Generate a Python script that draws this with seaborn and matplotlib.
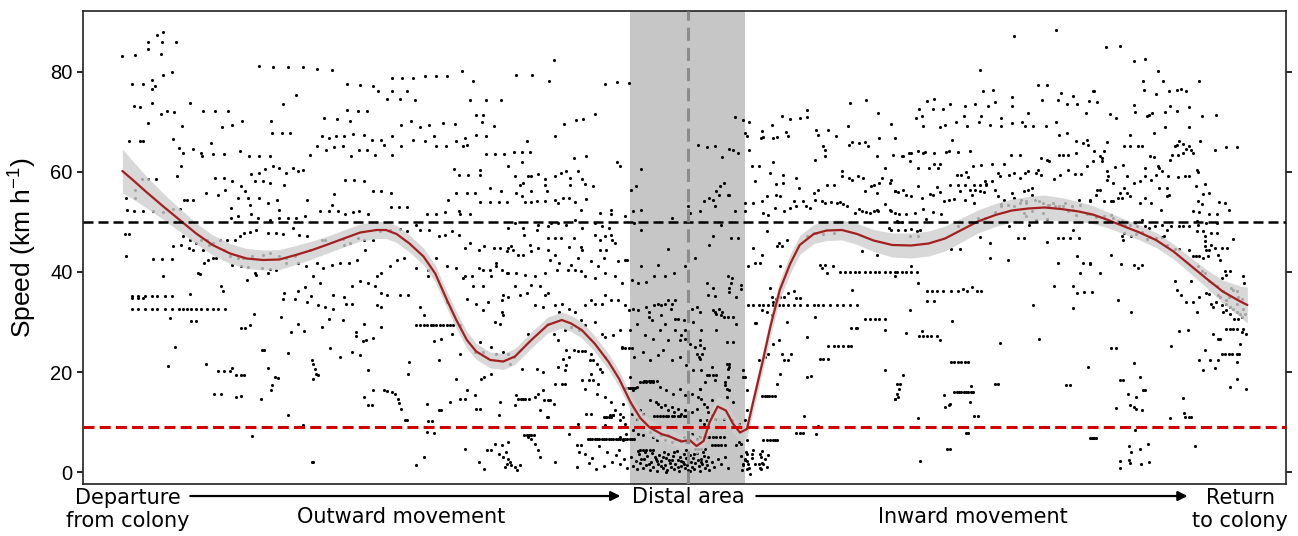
import matplotlib
matplotlib.use("Agg")
import matplotlib.pyplot as plt
import seaborn as sns
import pandas as pd

# Data: x = relative position along the trip (0-100), y = speed (km/h)
# Points, grouped by stretch of the trip
pts_departure = [
    (0.8, 83.2), (1.9, 83.4), (3.0, 85.9), (3.0, 84.5), (3.8, 87.4), (4.3, 87.9), (4.2, 85.9), (5.4, 85.9), (4.1, 83.5),
    (1.6, 77.6), (2.6, 77.6), (3.3, 78.3), (3.3, 76.6), (3.6, 77.1), (4.3, 79.3), (5.0, 79.9),
    (1.8, 73.2), (2.3, 73.0), (3.3, 73.7), (4.1, 71.6), (4.6, 72.1), (5.2, 71.9), (3.0, 69.7), (5.9, 69.1), (6.6, 73.7),
    (1.4, 66.2), (2.3, 66.2), (2.6, 66.2), (5.1, 66.6), (5.6, 64.7), (6.0, 63.7), (6.8, 64.5), (5.8, 61.1), (5.5, 59.1),
    (2.5, 58.5), (3.0, 58.5), (3.7, 58.5), (1.9, 56.4), (1.9, 54.7), (1.1, 54.7), (1.2, 52.4),
    (1.8, 52.1), (2.6, 52.1), (3.4, 52.1), (4.3, 51.9), (5.1, 52.5), (5.7, 52.5), (6.1, 54.3), (6.3, 54.3), (6.8, 54.3),
    (1.0, 47.6), (1.4, 47.6), (1.1, 43.1), (3.4, 42.5), (4.2, 42.5), (5.0, 42.5), (4.3, 39.1),
    (1.6, 35.3), (2.1, 35.3), (2.7, 35.3), (3.3, 35.3), (3.8, 35.3), (4.4, 35.3), (5.0, 35.3), (1.6, 34.9), (2.1, 34.9), (2.6, 34.9),
    (1.6, 32.6), (2.1, 32.6), (2.7, 32.6), (3.3, 32.6), (3.8, 32.6), (4.4, 32.6), (5.0, 32.6), (5.6, 32.6), (6.0, 32.6),
    (6.3, 32.6), (6.7, 32.6), (7.1, 32.6), (7.5, 32.6), (8.0, 32.6), (8.5, 32.6), (9.0, 32.6), (9.6, 32.6),
    (6.6, 35.5), (6.7, 30.2), (7.1, 30.2), (4.9, 30.9), (5.3, 25.1), (4.7, 21.3), (7.9, 21.6),
    (9.0, 20.2), (9.5, 20.2), (10.0, 20.2), (10.2, 20.9), (10.5, 19.4), (10.9, 19.4), (11.2, 19.4),
    (8.6, 15.7), (9.2, 15.7), (10.5, 15.1), (10.9, 15.2), (12.6, 14.6), (13.5, 16.4), (13.6, 17.4), (13.8, 19.1), (14.1, 18.9),
    (12.7, 24.4), (12.9, 24.4), (13.2, 20.9), (14.9, 23.9), (14.9, 11.5), (11.9, 7.2), (16.2, 9.4), (17.0, 2.1),
    (10.9, 28.9), (11.3, 28.9), (11.7, 29.5), (12.0, 31.6), (14.3, 31.1), (15.2, 28.1), (15.8, 29.6), (16.3, 28.3),
    (14.6, 35.7), (14.5, 34.7), (15.5, 34.7), (15.8, 36.1), (16.4, 36.9), (16.6, 34.1), (16.9, 35.3),
    (11.4, 38.4), (12.2, 39.4), (13.2, 39.7), (9.2, 37.1), (9.4, 36.1), (7.3, 39.7), (7.4, 39.6),
    (6.0, 47.1), (6.6, 46.4), (7.1, 45.7), (7.5, 46.4), (8.0, 46.4), (8.5, 45.7), (9.1, 46.4), (9.7, 46.4), (10.4, 46.4),
    (10.8, 47.1), (11.2, 47.7), (11.7, 47.9), (12.2, 48.4), (13.2, 47.7), (13.9, 47.7), (14.5, 47.6), (15.4, 48.7),
    (15.9, 47.4), (16.6, 47.1),
    (5.1, 45.2), (5.8, 45.4), (6.5, 44.7), (6.8, 44.4), (7.7, 44.4), (8.2, 45.3), (9.5, 44.4), (10.0, 43.1), (10.7, 42.7),
    (11.1, 42.7), (11.9, 43.1), (12.8, 43.4), (13.4, 43.7), (14.2, 43.1), (14.8, 42.7), (15.5, 43.1), (15.8, 41.7), (16.5, 41.1),
    (7.8, 41.7), (8.1, 42.3), (8.5, 42.7), (8.8, 42.7), (10.2, 41.4), (10.9, 41.2), (11.5, 40.9), (12.1, 39.7), (12.7, 40.7),
    (13.4, 40.5), (13.9, 40.4), (14.8, 41.7),
    (7.9, 55.7), (8.7, 58.7), (9.5, 58.7), (9.0, 55.4), (9.6, 56.4), (10.2, 58.1), (10.1, 52.7), (10.7, 54.7), (10.9, 57.1),
    (11.3, 56.1), (11.5, 54.7), (11.7, 53.4), (11.8, 59.5), (12.1, 58.1), (12.5, 59.7), (12.8, 58.1), (13.0, 60.5),
    (13.4, 57.7), (13.7, 61.1), (14.2, 60.7), (14.6, 57.4), (14.8, 59.7), (15.4, 60.7), (15.8, 60.1), (16.2, 60.4),
    (16.6, 54.4), (14.0, 54.4), (14.2, 52.4), (13.2, 53.7), (12.5, 54.7),
    (10.1, 50.7), (10.7, 51.1), (11.8, 51.6), (12.4, 50.7), (13.4, 50.4), (14.2, 50.7), (14.9, 50.7), (15.6, 50.7), (16.4, 51.1),
    (12.5, 81.1), (13.7, 81.0), (14.9, 81.0), (16.2, 81.0), (15.6, 75.4), (14.5, 73.6), (13.5, 70.2), (13.6, 67.7),
    (14.4, 67.7), (15.1, 67.7), (7.7, 72.1), (8.7, 72.1), (9.8, 72.1), (9.3, 68.9), (10.2, 69.3), (11.0, 70.1),
    (8.4, 65.7), (8.5, 63.6), (9.5, 63.5), (7.5, 63.7), (7.6, 63.1), (10.8, 64.1), (11.6, 63.1), (12.5, 63.1),
    (13.4, 63.1), (16.8, 63.3),
]

pts_outward = [
    (17.4, 80.6), (18.7, 80.4), (20.0, 77.6), (21.1, 77.4), (22.2, 77.2), (22.6, 76.1), (23.4, 74.6), (23.8, 76.2),
    (24.5, 74.6), (25.1, 76.1), (25.8, 74.4), (23.8, 78.7), (24.7, 78.7), (25.6, 78.7), (26.6, 79.1), (27.6, 79.1),
    (28.5, 79.1), (29.8, 80.1), (30.7, 78.2), (30.5, 74.3), (31.8, 74.3), (33.1, 74.4), (31.0, 71.4), (31.6, 71.4),
    (31.5, 69.9), (32.5, 69.1), (18.0, 70.7), (19.1, 70.6), (20.0, 72.4), (20.9, 72.2), (21.7, 72.2), (20.2, 70.2),
    (17.8, 67.1), (18.4, 66.7), (19.0, 67.2), (19.7, 67.1), (20.5, 67.5), (21.4, 67.4), (22.1, 66.4), (22.9, 66.4),
    (23.8, 67.2), (24.6, 69.3), (25.4, 70.1), (26.2, 68.9), (27.0, 69.3), (27.4, 67.2), (28.2, 69.7), (29.2, 69.5),
    (30.0, 66.7), (31.0, 67.4), (31.8, 67.1),
    (17.4, 65.1), (18.2, 64.4), (18.9, 64.9), (19.6, 65.1), (20.3, 63.1), (21.0, 64.4), (21.7, 64.4), (22.4, 63.4),
    (23.1, 65.4), (23.8, 63.3), (24.6, 65.1), (25.6, 66.3), (26.6, 66.2), (27.6, 65.1), (28.4, 65.1), (29.3, 66.1),
    (29.9, 65.1), (30.2, 65.4), (31.8, 63.6), (32.6, 63.6), (33.4, 63.6),
    (29.1, 60.6), (29.5, 59.4), (30.3, 59.4), (31.3, 60.4), (31.3, 59.3), (19.8, 58.3), (20.6, 58.3), (21.4, 58.1),
    (18.9, 55.5), (18.7, 53.4), (17.7, 52.2), (18.4, 52.2), (19.2, 52.2), (19.8, 51.6), (20.5, 51.9), (21.0, 52.2),
    (21.8, 51.6), (22.2, 56.2), (22.9, 56.2), (23.7, 55.7), (23.7, 52.9), (24.4, 52.9), (25.1, 52.9),
    (26.8, 51.5), (27.6, 51.5), (28.3, 51.9), (29.5, 52.1), (29.6, 51.6), (30.5, 51.6),
    (28.6, 54.4), (29.3, 55.7), (30.2, 55.7), (30.9, 55.7), (31.3, 53.9), (32.2, 53.9), (32.9, 53.9), (33.6, 53.9),
    (32.2, 56.7), (33.1, 56.1),
    (17.8, 46.4), (18.1, 46.3), (19.6, 46.5), (19.7, 45.4), (20.2, 45.7), (20.9, 46.7), (21.4, 46.4), (22.2, 46.4),
    (22.8, 48.1), (23.6, 48.4), (24.5, 48.5), (25.1, 48.1), (25.9, 49.4), (26.2, 48.4), (27.0, 48.4), (27.8, 47.1),
    (28.3, 47.4), (28.9, 48.1), (29.5, 47.4), (30.0, 44.7), (30.5, 45.7), (31.2, 44.4), (31.7, 45.1), (32.5, 44.7),
    (33.0, 44.7), (33.6, 44.1),
    (16.8, 44.4), (17.4, 41.7), (17.9, 40.7), (18.7, 41.4), (19.4, 41.7), (20.1, 41.7), (20.8, 42.4), (21.5, 44.4),
    (22.5, 39.1), (22.9, 39.7), (23.6, 41.1), (24.2, 42.4), (24.8, 42.7), (25.9, 40.7), (26.9, 40.4), (27.6, 42.7),
    (28.5, 41.1), (29.3, 40.7), (30.0, 39.1), (30.6, 39.1), (31.2, 40.7), (31.6, 40.4), (32.2, 40.4), (32.7, 41.7),
    (33.2, 40.4), (33.6, 39.7),
    (17.1, 39.1), (17.7, 37.7), (18.8, 35.4), (19.7, 35.1), (20.4, 37.1), (21.1, 38.1), (21.8, 37.7), (22.4, 37.1),
    (22.9, 35.7), (23.4, 35.4), (24.5, 35.4), (25.2, 35.4), (26.9, 39.1), (29.9, 38.7), (30.7, 37.1), (31.6, 37.1),
    (32.3, 39.1), (32.7, 41.1), (33.2, 34.4), (33.3, 35.4),
    (17.5, 33.4), (18.1, 33.1), (18.8, 32.7), (18.4, 30.7), (19.9, 33.7), (20.4, 33.7), (22.5, 33.4), (22.9, 33.1),
    (26.2, 33.1), (26.5, 31.4), (28.5, 34.1), (30.2, 34.7), (31.0, 33.7), (31.6, 32.4), (32.0, 34.1), (32.6, 30.1),
    (33.0, 29.7), (33.3, 31.4),
    (25.9, 29.4), (26.2, 29.4), (26.5, 29.4), (26.8, 29.4), (27.1, 29.4), (27.3, 29.4), (27.6, 29.4), (27.9, 29.4),
    (28.2, 29.4), (28.5, 29.4), (28.8, 29.4), (29.0, 29.4),
    (17.8, 29.1), (19.6, 30.4), (21.4, 29.7), (22.9, 29.1), (28.9, 27.7), (29.6, 29.4), (33.2, 32.1),
    (20.7, 28.1), (20.7, 27.2), (21.3, 26.3), (21.6, 26.4), (22.2, 26.9), (28.0, 26.7), (27.4, 26.3), (31.3, 26.1),
    (31.6, 24.1), (32.3, 25.1), (32.7, 23.7), (33.3, 24.1), (30.9, 24.1),
    (18.5, 24.9), (19.4, 23.1), (20.4, 24.1), (21.1, 23.4), (21.8, 20.4), (25.3, 22.1), (27.8, 22.4), (29.6, 23.7),
    (16.95, 22.4), (17.1, 21.7), (17.2, 20.7), (17.3, 19.7), (17.1, 18.7), (17.5, 19.4),
    (21.4, 15.1), (21.8, 13.5), (22.1, 13.4), (22.2, 16.4), (23.1, 16.4), (23.4, 16.2), (23.8, 16.1), (24.1, 15.6),
    (24.3, 14.7), (24.4, 13.9), (24.6, 12.7), (24.9, 10.4), (25.1, 10.4), (25.2, 19.7), (26.8, 13.7), (27.8, 12.4),
    (28.0, 12.4), (28.8, 14.1), (29.3, 18.7), (29.6, 14.7), (30.0, 14.7), (30.2, 16.4), (30.9, 15.4), (31.0, 12.7),
    (31.3, 12.7), (31.4, 18.7), (31.7, 19.1), (32.3, 19.7), (32.9, 11.4), (33.0, 14.1),
    (26.8, 8.1), (27.4, 7.9), (26.9, 10.3), (27.2, 10.3),
    (26.5, 3.1), (25.9, 1.4), (17.1, 2.1), (30.0, 4.7), (31.2, 2.1), (31.7, 0.7),
    (31.9, 4.4), (32.3, 4.4), (32.6, 5.7), (32.9, 3.7), (33.2, 5.4), (33.3, 3.1), (33.6, 1.7), (33.7, 2.7), (33.5, 4.1),
]

pts_approach = [
    (37.6, 82.4), (34.4, 79.3), (35.8, 79.3), (37.2, 78.1), (42.0, 77.6), (43.0, 77.9), (44.0, 77.7),
    (38.5, 69.6), (39.5, 70.3), (40.1, 70.5), (41.1, 71.6), (37.7, 67.1), (35.3, 66.1),
    (34.2, 63.9), (34.9, 63.9), (35.6, 63.9), (34.9, 61.9), (33.7, 61.1), (39.3, 62.7), (40.4, 63.1),
    (43.0, 61.9), (43.3, 61.1), (45.1, 60.5), (44.6, 57.2), (44.2, 56.4),
    (34.3, 59.1), (34.7, 57.4), (35.0, 57.7), (35.4, 59.1), (35.7, 59.1), (36.3, 59.6), (36.9, 58.6), (36.9, 57.4),
    (37.0, 56.1), (37.7, 59.1), (38.2, 59.7), (38.7, 60.1), (39.0, 58.7), (39.7, 60.2), (40.0, 58.5), (40.3, 57.6),
    (41.0, 57.2), (39.0, 57.4), (34.4, 55.7), (34.9, 55.1), (35.7, 56.1), (35.2, 53.9), (35.7, 53.9), (36.2, 54.1),
    (36.9, 54.1), (37.7, 54.4), (38.0, 53.7), (38.4, 54.7), (38.9, 54.7), (39.4, 53.9), (40.4, 54.5), (39.9, 52.3),
    (41.6, 51.7), (42.5, 52.4), (42.5, 51.5), (44.4, 52.1), (45.1, 52.3),
    (33.7, 48.7), (34.3, 49.7), (35.0, 48.7), (36.2, 48.4), (36.3, 49.4), (37.1, 49.1), (37.4, 49.7), (38.0, 49.7),
    (38.7, 49.4), (39.4, 50.4), (40.0, 48.7), (41.1, 49.7), (41.7, 49.2), (42.3, 48.7), (43.7, 51.1), (44.5, 49.7),
    (45.1, 48.4), (47.7, 50.7),
    (35.1, 47.3), (35.6, 45.4), (36.3, 44.7), (37.1, 46.7), (37.7, 46.7), (38.2, 46.7), (38.9, 44.9), (39.3, 46.7),
    (39.9, 44.9), (40.0, 44.4), (41.1, 47.4), (41.6, 46.4), (42.0, 47.1), (42.5, 47.4), (42.6, 46.4), (42.8, 45.7),
    (42.1, 44.4), (41.6, 44.4), (33.7, 44.7), (34.0, 45.1), (34.1, 44.4), (47.4, 44.5),
    (34.6, 43.4), (35.0, 43.4), (35.7, 44.1), (37.1, 44.3), (37.3, 42.4), (37.7, 43.4), (38.1, 41.7), (39.1, 41.4),
    (39.4, 40.4), (39.7, 42.7), (40.8, 42.1), (41.4, 41.1), (41.9, 42.7), (43.1, 42.1), (43.7, 42.3), (43.9, 42.3),
    (45.1, 41.1), (46.5, 41.4), (47.1, 39.1), (47.9, 39.7), (48.8, 41.1), (49.7, 42.7), (36.9, 39.7), (37.9, 40.4),
    (38.8, 40.4), (39.9, 40.1), (40.3, 39.1), (41.1, 38.7), (42.0, 39.7), (42.8, 39.1), (43.4, 37.7), (44.3, 38.4),
    (44.8, 37.7), (45.5, 37.9), (46.2, 39.1), (33.7, 39.7), (34.4, 39.7), (35.2, 39.4), (36.0, 39.1), (36.4, 37.1),
    (37.1, 35.7), (36.9, 35.4), (35.7, 37.4),
    (34.7, 35.4), (35.3, 35.7), (34.3, 37.1), (33.7, 35.1), (36.0, 33.4), (36.7, 33.1), (37.7, 33.4), (38.3, 33.7),
    (38.1, 32.1), (38.9, 32.7), (39.4, 32.1), (39.9, 30.4), (40.3, 33.4), (40.8, 34.4), (41.1, 33.7), (41.7, 33.7),
    (42.0, 35.4), (42.5, 34.4), (43.1, 34.4), (43.7, 33.4), (44.0, 32.4), (44.4, 32.7), (44.8, 32.4), (45.5, 33.1),
    (45.7, 32.1), (46.2, 33.4), (46.5, 33.7), (46.8, 33.4), (47.1, 33.7), (47.4, 34.4), (47.7, 33.7), (47.6, 32.7),
    (48.0, 34.4), (45.7, 31.1), (46.0, 30.4), (46.8, 31.4), (47.1, 29.7), (48.2, 30.7), (48.7, 30.4), (49.1, 31.1),
    (49.4, 32.7), (49.8, 33.1), (50.1, 32.1), (49.5, 30.1), (48.8, 28.4), (48.5, 27.4), (48.4, 26.4), (48.0, 30.7),
    (35.4, 27.7), (37.1, 29.7), (37.6, 27.7), (38.0, 26.4), (38.6, 28.4), (39.1, 29.1), (39.8, 28.4), (40.3, 29.4),
    (41.1, 30.1), (41.7, 27.7), (42.0, 27.1), (42.7, 27.4), (43.3, 28.4), (44.1, 28.4), (44.7, 29.7), (45.4, 27.4),
    (46.1, 26.7), (46.7, 28.4), (47.4, 26.4), (48.0, 28.4), (48.8, 26.7), (49.2, 25.7), (49.7, 25.1), (50.1, 26.4),
    (39.7, 24.3), (40.0, 24.3), (40.3, 24.3), (38.7, 24.4), (38.9, 23.1), (38.4, 22.7), (39.3, 24.4), (40.8, 23.7),
    (40.7, 22.4), (41.0, 22.4), (41.3, 21.7), (41.6, 20.7), (41.7, 20.1), (40.8, 19.7), (41.0, 18.4), (41.4, 17.7),
    (42.0, 23.1), (43.4, 24.9), (43.7, 24.9), (44.0, 24.9), (44.3, 24.9),
    (43.8, 16.9), (43.95, 16.9), (44.1, 16.9), (44.25, 16.9), (44.4, 16.9), (44.55, 16.9),
    (45.3, 18.2), (45.5, 18.2), (45.7, 18.2), (45.9, 18.2), (46.1, 18.2), (46.4, 18.2),
    (33.7, 23.7), (34.2, 23.1), (33.9, 21.7), (34.9, 20.7), (36.2, 20.7), (36.7, 20.1), (38.0, 21.1), (38.6, 20.4),
    (38.3, 17.7), (37.7, 17.7), (38.6, 17.7), (38.7, 21.4), (40.0, 18.4), (40.6, 18.4), (40.3, 16.7), (41.3, 15.7),
    (42.0, 15.1), (42.5, 14.1), (42.8, 12.4), (43.3, 11.7), (43.5, 13.7), (43.7, 9.7),
    (34.6, 14.7), (34.8, 14.7), (35.0, 14.7), (35.2, 14.7), (35.5, 14.7),
    (34.4, 15.4), (34.3, 13.4), (36.0, 15.1), (36.3, 15.7), (36.7, 16.4), (36.8, 14.4), (37.1, 14.4), (37.3, 14.4),
    (37.6, 13.7), (37.1, 11.1), (37.0, 11.1), (36.4, 12.4),
    (35.1, 7.4), (35.3, 7.4), (35.5, 7.4), (35.7, 7.4), (35.9, 7.4),
    (39.6, 5.4), (39.9, 5.4), (39.8, 4.1), (40.3, 3.7), (40.4, 11.7), (40.8, 11.7), (42.1, 11.1), (42.4, 11.4),
    (42.7, 11.4), (42.0, 9.4), (39.7, 9.7), (38.9, 7.7), (35.4, 7.1), (35.7, 6.7), (36.0, 5.7), (36.3, 4.4),
    (36.4, 3.1), (37.7, 2.1), (39.6, 1.1), (33.7, 6.1), (33.9, 2.1), (34.0, 1.4), (34.3, 1.1), (34.5, 0.4),
    (34.7, 1.4), (33.45, 1.1), (49.9, 65.4), (49.1, 53.1), (49.2, 51.7),
    (41.9, 11.0), (42.1, 11.0), (42.3, 11.0), (42.5, 11.0),
    (42.9, 3.4), (43.3, 1.6), (43.6, 2.7), (43.9, 0.9), (43.2, 4.4), (42.6, 2.0), (41.9, 1.2), (41.5, 5.2),
    (40.9, 2.9), (41.2, 0.6), (42.2, 4.0), (40.6, 1.8), (43.3, 7.1), (43.5, 6.4), (43.8, 7.7),
    (40.5, 6.6), (40.7, 6.6), (40.9, 6.6), (41.1, 6.6), (41.3, 6.6), (41.5, 6.6), (41.7, 6.6), (41.9, 6.6),
    (42.1, 6.6), (42.3, 6.6), (42.5, 6.6), (42.7, 6.6), (42.9, 6.6), (43.1, 6.6), (43.3, 6.6), (43.5, 6.6),
    (43.7, 6.6), (43.9, 6.6), (44.1, 6.6), (44.3, 6.6), (44.5, 6.6),
]

pts_distal = [
    (43.4, 25.1), (44.5, 23.1), (45.2, 24.1), (45.8, 22.4), (46.5, 23.4), (46.9, 24.4), (47.7, 22.4), (48.4, 23.1),
    (48.9, 21.4), (49.8, 23.7), (50.1, 25.4), (50.0, 23.1), (49.5, 20.4), (50.2, 20.4),
    (50.65, 19.4), (50.9, 19.4), (51.2, 19.4), (51.5, 19.4), (52.4, 21.7), (52.5, 20.7), (52.2, 18.1), (52.6, 16.4),
    (52.4, 15.1), (52.9, 26.1), (53.9, 19.1),
    (44.96, 18.1), (45.25, 18.1), (45.5, 18.1), (45.8, 18.1), (46.1, 18.1),
    (44.1, 19.1), (44.4, 16.4), (44.7, 17.1), (46.7, 17.1), (47.2, 16.4), (47.8, 15.7), (48.4, 16.7), (48.8, 15.4),
    (49.4, 15.7), (50.1, 16.7), (49.9, 15.1), (50.4, 13.7),
    (45.8, 14.4), (46.3, 14.1), (46.5, 13.7), (46.8, 13.1), (47.1, 13.4), (47.4, 12.4), (47.7, 13.1), (47.9, 12.1),
    (48.2, 12.7), (48.5, 11.7), (48.8, 12.4), (49.4, 12.1), (49.8, 12.7),
    (46.2, 11.2), (46.4, 11.2), (46.7, 11.2), (46.9, 11.2), (47.2, 11.2), (47.4, 11.2), (47.7, 11.2), (47.9, 11.2),
    (48.2, 11.2), (48.4, 11.2), (48.7, 11.2), (48.9, 11.2),
    (45.0, 12.4), (45.25, 11.7), (44.7, 10.7), (44.25, 11.7), (43.5, 11.1), (43.3, 10.4), (42.7, 11.4),
    (50.8, 12.1), (51.1, 11.4), (51.4, 10.7), (50.65, 10.4), (50.1, 10.4), (50.4, 9.7),
    (52.1, 10.7), (52.8, 10.4), (53.4, 9.7), (54.1, 12.4), (53.9, 10.4),
    (44.4, 8.4), (44.8, 7.7), (45.25, 7.4), (45.8, 8.1), (46.1, 7.1), (46.4, 6.4), (46.8, 7.4), (47.1, 6.4),
    (47.4, 7.4), (47.7, 6.1), (47.95, 6.7), (48.4, 6.4), (48.7, 7.1), (48.9, 6.1), (49.4, 7.7), (49.8, 6.7),
    (50.1, 7.1), (50.4, 7.1), (50.65, 7.1), (50.9, 7.1), (51.2, 7.1), (51.5, 7.1), (51.8, 7.1), (52.1, 7.1),
    (51.1, 5.4), (51.4, 5.4), (51.65, 5.4), (51.9, 5.4), (52.2, 5.4),
    (49.7, 4.7), (49.95, 4.7), (50.2, 4.7), (50.5, 4.7),
    (44.96, 4.4), (45.25, 4.4), (45.5, 4.4), (45.8, 4.4), (46.1, 4.4),
    (53.4, 6.1), (53.6, 5.7), (54.1, 6.4),
    (44.2, 3.1), (44.4, 1.2), (44.6, 2.3), (44.7, 0.6), (44.9, 3.6), (45.0, 1.8), (45.2, 0.9), (45.3, 2.7),
    (45.5, 1.4), (45.6, 3.3), (45.8, 0.5), (45.9, 2.0), (46.0, 3.9), (46.1, 1.1), (46.3, 2.6), (46.4, 0.3),
    (46.5, 1.7), (46.6, 3.4), (46.8, 2.2), (46.9, 0.8), (47.0, 4.1), (47.1, 1.5), (47.2, 2.9), (47.3, 0.4),
    (47.4, 3.7), (47.5, 1.9), (47.6, 1.0), (47.7, 2.5), (47.8, 3.2), (47.9, 0.7), (48.0, 1.6), (48.1, 4.3),
    (48.2, 2.4), (48.3, 0.2), (48.4, 3.0), (48.5, 1.3), (48.6, 2.0), (48.7, 3.6), (48.8, 0.9), (48.9, 2.8),
    (49.0, 1.5), (49.1, 0.4), (49.2, 3.4), (49.3, 2.1), (49.4, 1.0), (49.5, 2.9), (49.6, 0.6), (49.7, 1.8),
    (49.8, 3.9), (49.9, 2.4), (50.0, 1.2), (50.1, 0.3), (50.2, 2.7), (50.3, 1.6), (50.4, 3.3), (50.5, 0.8),
    (50.6, 2.2), (50.7, 1.4), (50.8, 3.0), (50.9, 0.5), (51.1, 2.0), (51.3, 1.1), (51.6, 2.6), (51.9, 1.7),
    (52.2, 3.1), (52.5, 0.9), (47.45, 2.5), (46.75, 1.3), (48.25, 1.1), (49.05, 2.4), (45.75, 1.6), (46.25, 3.0),
    (47.85, 4.0), (48.75, 1.7), (49.55, 3.6), (50.15, 2.0), (44.8, 4.3), (45.4, 4.0), (46.9, 3.0), (48.45, 2.2),
    (49.25, 0.2), (50.35, 4.0), (45.05, 2.6), (47.15, 0.1), (48.9, 4.4), (46.45, 2.3),
    (53.6, 3.2), (53.8, 1.4), (54.0, 4.1), (54.1, 2.2), (54.3, 0.8), (53.7, 0.5), (54.5, 2.9), (55.2, 3.6),
    (55.4, 1.9), (55.6, 2.7), (55.8, 1.1), (55.9, 3.4), (55.3, 0.6), (54.2, 1.6), (53.9, 2.6),
    (53.2, 5.4), (54.1, 3.7), (54.5, 3.7), (54.6, 4.4), (55.4, 4.3), (55.3, 3.1), (55.1, 1.7), (54.8, 1.7),
    (55.5, 1.7), (55.2, 0.9), (53.9, 2.4), (54.1, 0.7), (54.4, -0.3), (53.8, 1.7),
    (55.5, 6.4), (55.8, 6.4), (56.05, 6.4), (56.3, 6.4), (56.5, 6.4), (56.7, 6.4),
]

pts_leaving = [
    (53.1, 71.0), (53.8, 70.3), (54.3, 69.9), (53.9, 67.7), (54.1, 67.1), (54.3, 64.4), (50.7, 64.9), (51.4, 65.2),
    (52.0, 62.9), (52.6, 64.5), (52.9, 64.4), (53.3, 63.7), (50.4, 54.1), (50.9, 54.7), (51.2, 54.4), (51.5, 56.1),
    (51.7, 55.4), (51.8, 57.1), (52.1, 57.7), (52.5, 55.4), (52.6, 55.4), (50.1, 52.1), (51.4, 53.1), (51.9, 49.4),
    (52.7, 46.7), (53.3, 46.7), (53.1, 52.1), (53.9, 53.7), (53.9, 52.1), (51.2, 47.2), (50.9, 45.4),
    (50.7, 37.7), (50.8, 35.4), (51.2, 36.7), (51.4, 35.3), (52.5, 39.1), (52.7, 37.7), (52.8, 38.7), (52.6, 36.7),
    (52.6, 35.9), (53.6, 37.4), (53.6, 36.5), (53.2, 35.1), (51.4, 32.1), (51.5, 31.7), (51.7, 32.7), (51.9, 31.4),
    (52.1, 31.1), (52.5, 31.1), (52.9, 31.1), (53.2, 29.7), (52.0, 32.1), (51.2, 32.4), (50.2, 28.4), (51.5, 28.4),
    (52.4, 26.1), (50.4, 24.9), (50.3, 23.7), (50.1, 22.7), (51.1, 21.1), (50.5, 18.1), (51.4, 18.4), (52.2, 17.4),
    (52.4, 16.7), (52.6, 21.1), (52.6, 21.7), (52.5, 19.1), (53.8, 20.5), (53.8, 19.1), (54.1, 16.4), (52.9, 14.1),
    (50.1, 16.7), (50.2, 14.7), (50.7, 13.1), (51.1, 14.4),
    (55.4, 15.3), (55.6, 15.3), (55.8, 15.3), (56.0, 15.3), (56.2, 15.3), (56.5, 15.3),
    (58.3, 7.9), (58.6, 7.9), (58.9, 7.9), (60.0, 7.6), (59.0, 11.2), (60.2, 9.2),
    (55.1, 22.4), (55.6, 23.1), (55.9, 23.7), (56.3, 25.7), (56.8, 26.4), (57.1, 23.7), (57.3, 22.4), (57.6, 22.4),
    (57.9, 23.7), (56.9, 19.7), (56.7, 17.7), (57.5, 30.1), (56.2, 31.4), (55.8, 32.1), (55.4, 32.4), (54.8, 29.9),
    (54.9, 29.9), (56.1, 36.7), (56.2, 35.1), (56.3, 34.1), (56.6, 34.7), (56.9, 35.1), (57.3, 35.1), (57.6, 35.7),
    (58.1, 36.1), (58.3, 34.9), (58.6, 34.9), (56.9, 41.1), (57.1, 45.1), (56.7, 45.1), (59.2, 19.1), (59.6, 19.2),
    (59.2, 27.1), (60.3, 22.6), (60.6, 22.6), (61.0, 22.6), (61.4, 41.1), (60.3, 41.4), (60.5, 40.7), (60.8, 41.4),
    (60.9, 39.7), (59.9, 31.1), (63.1, 36.4), (63.4, 28.9),
    (54.2, 33.5), (54.6, 33.5), (55.1, 33.5), (55.5, 33.5), (55.9, 33.5), (56.3, 33.5), (56.8, 33.5), (57.2, 33.5),
    (57.6, 33.5), (58.1, 33.5), (58.6, 33.5), (59.2, 33.5), (59.8, 33.5), (60.2, 33.5), (60.6, 33.5), (61.2, 33.5),
    (61.8, 33.5), (62.3, 33.5), (62.9, 33.5), (63.5, 33.5),
    (61.0, 25.3), (61.5, 25.3), (61.9, 25.3), (62.3, 25.3), (62.7, 25.3), (63.0, 25.3),
    (62.0, 39.9), (62.5, 39.9), (62.9, 39.9), (63.3, 39.9), (63.7, 39.9), (64.2, 39.9), (64.6, 39.9), (65.0, 39.9),
    (65.4, 39.9), (65.9, 39.9), (66.3, 39.9), (66.7, 39.9), (66.9, 39.9), (67.3, 39.9), (67.7, 39.9), (68.1, 39.9),
    (68.6, 39.9),
    (64.2, 30.6), (64.6, 30.6), (65.0, 30.6), (65.4, 30.6), (65.9, 30.6),
    (63.0, 28.9), (63.5, 28.9), (65.9, 28.5), (65.9, 20.4), (66.7, 14.7), (67.0, 15.1), (66.9, 17.7),
    (62.9, 73.7), (64.3, 74.3), (65.3, 71.7), (66.4, 69.6), (66.6, 63.4), (65.2, 63.1), (65.4, 66.7), (62.7, 69.1),
    (62.8, 65.4), (63.1, 65.9), (63.7, 65.7), (64.2, 65.9), (64.4, 65.1), (61.7, 67.1), (61.0, 68.4), (60.0, 68.4),
    (60.2, 67.4), (60.8, 64.4), (60.8, 63.1), (60.6, 65.1), (59.9, 62.3), (58.6, 70.7), (59.2, 70.9), (59.2, 72.3),
    (57.8, 70.5), (57.4, 67.9), (57.6, 67.1), (57.1, 71.1), (56.2, 69.3), (56.7, 66.9), (56.3, 66.7), (55.4, 68.1),
    (55.3, 66.7), (55.5, 66.9), (54.5, 61.1), (55.1, 61.1), (56.3, 61.9), (56.1, 59.7), (57.2, 59.4), (57.2, 57.7),
    (56.6, 57.6), (56.9, 55.1), (56.6, 55.3), (55.8, 55.1), (55.4, 54.1), (54.8, 58.1), (54.6, 53.7), (55.5, 51.7),
    (55.9, 51.3), (56.5, 52.7), (57.3, 52.1), (57.8, 52.7), (58.1, 54.1), (58.3, 53.1), (58.3, 58.7), (58.5, 56.7),
    (58.9, 54.1), (59.1, 53.1), (59.5, 52.7), (59.9, 54.4), (59.8, 55.7), (60.2, 56.4), (60.5, 54.1), (60.8, 53.7),
    (60.9, 57.4), (61.3, 53.9), (61.5, 57.3), (61.8, 53.7), (62.0, 53.9), (62.2, 60.1), (62.2, 59.1), (62.3, 53.6),
    (62.6, 53.1), (62.8, 58.7), (63.1, 58.3), (63.6, 59.1), (64.0, 58.7), (64.2, 56.1), (64.7, 57.1), (64.9, 57.4),
    (65.2, 55.7), (65.4, 57.7), (65.6, 58.7), (65.9, 60.7), (65.9, 53.5), (66.3, 57.7), (66.4, 58.4), (66.7, 56.1),
    (66.7, 66.7), (63.3, 51.7), (63.7, 52.5), (63.9, 52.1), (64.3, 51.9), (64.6, 51.7), (64.9, 52.1), (65.2, 52.4),
    (65.3, 52.1), (66.3, 52.4), (66.4, 52.1),
    (54.6, 44.7), (54.2, 41.1), (54.8, 41.7), (55.2, 41.7), (55.4, 43.4), (55.8, 48.1), (56.8, 45.7), (57.5, 46.4),
    (59.2, 47.1), (59.8, 47.7), (60.0, 47.7), (60.6, 47.6), (61.5, 47.7), (63.9, 44.1), (65.2, 43.4), (66.2, 48.7),
    (66.4, 48.4), (67.0, 48.4),
]

pts_inward = [
    (76.9, 87.2), (80.5, 88.3), (74.0, 80.4), (74.2, 76.2), (75.1, 76.3), (78.9, 77.3), (79.7, 77.3), (80.9, 75.7),
    (83.7, 76.2), (75.3, 73.9), (76.7, 74.9), (76.7, 73.2), (79.3, 74.4), (80.6, 74.4), (81.4, 73.5), (81.9, 75.1),
    (82.3, 73.5), (83.0, 71.7), (83.3, 74.2), (69.5, 74.1), (70.1, 74.5), (71.4, 73.6), (72.7, 73.1), (73.6, 73.5),
    (74.7, 73.1), (70.0, 72.5), (70.8, 72.5), (70.6, 68.9), (71.0, 69.4), (71.9, 69.9), (72.6, 71.2), (72.9, 69.1),
    (73.9, 69.9), (74.1, 71.1), (74.8, 69.4), (75.8, 70.7), (75.8, 69.2), (76.7, 69.7), (77.6, 69.9), (77.8, 69.1),
    (78.1, 71.7), (78.5, 69.1), (79.6, 69.2), (80.5, 69.9), (80.7, 67.3), (81.4, 67.7), (82.2, 66.1), (82.8, 65.7),
    (83.1, 66.4), (83.2, 65.4), (69.0, 71.2), (69.1, 69.1), (68.5, 70.7), (68.8, 72.5),
    (67.3, 63.2), (67.4, 63.1), (67.9, 63.7), (68.0, 62.1), (68.1, 63.7), (68.7, 64.1), (68.7, 60.7), (69.1, 63.7),
    (69.3, 63.9), (69.6, 60.7), (70.1, 63.7), (70.1, 61.5), (70.4, 60.7), (70.6, 61.6), (71.1, 63.9), (71.3, 64.1),
    (71.6, 66.3), (72.1, 63.9), (73.1, 64.2), (72.0, 59.3), (72.4, 59.4), (72.7, 57.4), (72.1, 57.4), (72.8, 59.9),
    (73.0, 58.9), (73.4, 61.1), (73.5, 57.4), (74.0, 57.4), (74.1, 61.4), (74.4, 58.1), (74.5, 57.5), (75.0, 58.1),
    (75.0, 61.6), (75.5, 59.7), (75.7, 59.1), (76.0, 61.5), (76.5, 59.4), (76.6, 63.3), (76.9, 59.7), (77.4, 63.3),
    (77.4, 58.7), (77.8, 59.7), (78.1, 60.2), (78.4, 56.7), (78.8, 59.7), (78.9, 60.4), (79.2, 62.7), (79.7, 62.4),
    (79.9, 62.1), (80.3, 58.5), (80.7, 63.3), (81.1, 63.3), (81.5, 63.3), (82.1, 59.6), (82.2, 63.7), (82.6, 59.6),
    (83.1, 61.2), (83.7, 64.1), (81.5, 60.4), (80.8, 59.3), (79.2, 59.4),
    (66.7, 56.1), (67.0, 55.9), (67.4, 56.4), (67.7, 55.4), (68.1, 55.1), (68.7, 57.1), (69.0, 54.7), (69.7, 55.6),
    (70.0, 55.4), (70.3, 56.9), (70.6, 55.9), (70.9, 54.1), (71.3, 54.4), (71.4, 57.4), (71.8, 54.5), (72.3, 56.1),
    (72.7, 54.4), (73.1, 56.4), (73.3, 55.4), (73.6, 56.4), (73.5, 53.7), (74.0, 56.1), (74.3, 55.9), (74.5, 57.4),
    (75.3, 56.4), (75.5, 55.1), (75.8, 53.6), (76.0, 54.4), (76.7, 55.7), (76.9, 54.7), (77.5, 54.4), (77.7, 56.1),
    (77.9, 54.1), (78.1, 56.4), (78.4, 55.4), (78.7, 54.4), (79.0, 54.1), (79.4, 53.7), (79.8, 53.4), (80.2, 53.7),
    (80.7, 53.1), (81.2, 53.7), (81.8, 53.1), (82.4, 54.4), (83.4, 54.1),
    (66.7, 51.7), (67.1, 51.6), (67.7, 51.6), (68.4, 51.7), (69.1, 52.6), (70.0, 51.9), (70.7, 51.6), (66.9, 50.1),
    (67.0, 49.9), (67.3, 49.9), (68.1, 48.5), (68.6, 48.1), (68.7, 47.2), (68.0, 47.1), (67.6, 48.3), (69.4, 50.6),
    (72.1, 49.1), (73.8, 50.7), (74.1, 50.4), (74.3, 49.9), (74.4, 50.7), (75.3, 51.9), (75.8, 53.1), (76.4, 53.4),
    (76.5, 49.1), (76.9, 53.1), (77.4, 53.7), (77.7, 51.7), (77.9, 51.1), (78.2, 49.4), (78.4, 52.1), (78.8, 50.3),
    (79.4, 51.7), (79.7, 50.5), (79.9, 53.4), (80.4, 53.1), (81.1, 53.1), (81.5, 52.1), (81.9, 52.4), (82.2, 51.4),
    (82.5, 53.4), (83.1, 51.6), (77.9, 53.7), (68.9, 48.4), (72.3, 44.5), (71.5, 44.5), (74.0, 46.9), (74.8, 45.7),
    (74.8, 42.7), (76.4, 42.3), (77.2, 46.7), (77.7, 46.7), (79.7, 45.9), (80.6, 46.7), (81.1, 46.7), (81.7, 46.7),
    (82.4, 46.7), (81.9, 48.4), (66.7, 39.1), (68.1, 41.1), (68.7, 37.7), (82.5, 39.7), (82.8, 41.7), (83.4, 41.6),
    (82.3, 43.1), (80.6, 41.7),
    (69.5, 36.2), (69.9, 36.2), (70.3, 36.2), (70.8, 36.2), (71.5, 36.2), (72.1, 36.2), (72.5, 36.5), (72.9, 36.2),
    (73.3, 36.9), (73.7, 36.2), (74.1, 36.2),
    (69.5, 34.3), (70.1, 34.3), (80.3, 37.1), (81.9, 37.2), (82.3, 35.7), (82.9, 35.9), (83.5, 35.9), (81.9, 32.9),
    (78.5, 33.4), (79.0, 26.7), (75.7, 25.9), (68.0, 32.4), (67.7, 27.9), (71.6, 30.3),
    (68.8, 27.3), (69.1, 27.3), (69.5, 27.3), (69.8, 27.3), (70.3, 27.3), (69.0, 28.2), (70.6, 26.5),
    (71.5, 22.1), (71.8, 22.1), (72.1, 22.1), (72.4, 22.1), (72.7, 22.1), (73.0, 22.1),
    (71.8, 16.1), (72.0, 16.1), (72.2, 16.1), (72.4, 16.1), (72.6, 16.1), (72.8, 16.1), (73.0, 16.1), (73.2, 16.1),
    (73.4, 16.1),
    (66.7, 14.7), (66.9, 15.6), (67.1, 16.7), (67.2, 17.7), (67.4, 19.4), (70.9, 15.4), (71.0, 13.1), (71.3, 13.4),
    (71.4, 13.7), (73.2, 17.3), (73.1, 14.1), (73.5, 11.3), (73.8, 11.3), (75.3, 17.6), (75.5, 17.6), (81.3, 17.5),
    (81.7, 17.5), (83.2, 21.1), (68.7, 10.9), (68.9, 2.3), (71.2, 4.7), (71.4, 4.7), (72.8, 7.9), (73.0, 7.9),
    (83.5, 6.9), (83.7, 6.9),
]

pts_return = [
    (84.7, 84.9), (85.9, 85.2), (87.1, 82.2), (88.1, 82.6), (89.2, 80.1), (87.9, 78.2), (89.6, 78.2), (88.0, 76.3),
    (89.0, 75.5), (90.1, 76.2), (90.8, 76.4), (91.1, 76.6), (91.6, 76.2), (92.7, 78.1), (87.1, 73.4), (87.2, 71.9),
    (88.2, 71.1), (88.4, 71.3), (88.7, 71.7), (89.8, 71.9), (90.2, 73.2), (90.8, 72.1), (91.8, 72.9), (92.9, 71.2),
    (94.1, 71.4), (91.8, 68.9), (89.8, 68.9), (88.8, 67.7), (86.8, 67.3), (85.1, 71.5), (85.6, 70.7), (83.6, 76.2),
    (84.0, 73.9),
    (86.3, 65.1), (86.8, 65.1), (87.5, 65.1), (87.8, 65.1), (90.6, 65.1), (90.8, 65.3), (91.0, 66.2), (91.3, 65.5),
    (91.6, 64.5), (91.8, 65.2), (92.0, 64.4), (92.2, 63.7), (90.9, 63.4), (91.3, 63.7), (90.4, 63.4), (90.2, 62.4),
    (84.8, 65.9), (84.6, 64.1), (84.2, 63.1), (84.4, 62.7), (84.4, 62.1), (83.6, 62.2), (95.0, 64.9), (95.9, 64.9),
    (94.0, 64.3), (92.8, 66.1),
    (84.8, 60.1), (85.5, 60.9), (85.3, 57.7), (84.9, 59.1), (84.8, 58.4), (86.2, 61.4), (86.5, 59.1), (88.1, 60.7),
    (88.1, 59.1), (88.5, 63.1), (88.8, 62.9), (89.0, 59.4), (89.2, 61.2), (89.3, 60.7), (89.5, 60.1), (90.0, 59.1),
    (90.9, 58.9), (91.5, 59.1), (91.8, 59.1), (92.5, 60.4), (92.6, 59.9), (93.2, 57.5), (93.5, 55.7), (93.0, 55.6),
    (92.4, 57.1), (89.9, 56.7), (90.1, 55.4), (89.3, 56.7), (88.6, 58.4), (87.6, 58.1), (87.1, 57.7), (86.3, 56.7),
    (86.5, 55.7), (86.8, 55.1), (85.9, 55.7), (85.8, 54.7), (86.1, 54.7), (85.3, 54.1), (85.2, 54.2), (84.6, 54.1),
    (84.2, 56.4), (83.9, 55.4), (84.0, 56.4), (83.4, 54.4), (87.6, 53.7), (88.1, 54.7), (88.6, 53.7), (89.4, 52.4),
    (89.9, 55.1), (92.9, 53.5), (92.6, 54.1), (92.2, 52.1), (92.7, 51.9), (93.5, 51.6), (94.2, 51.6), (94.4, 53.9),
    (94.9, 53.7), (95.2, 52.4),
    (83.4, 51.6), (83.9, 50.9), (84.6, 51.2), (84.9, 50.4), (85.2, 51.3), (85.3, 50.7), (85.8, 50.1), (86.1, 50.1),
    (86.2, 49.7), (86.4, 49.4), (86.8, 49.4), (87.2, 49.7), (87.4, 49.2), (87.8, 50.3), (88.1, 49.2), (88.4, 48.7),
    (88.9, 49.2), (89.5, 49.4), (89.9, 48.4), (90.3, 49.1), (91.0, 49.2), (91.3, 49.1), (91.8, 49.1), (92.5, 50.1),
    (93.3, 49.7), (94.2, 49.7), (86.1, 47.2), (86.2, 46.4), (86.3, 47.7), (86.9, 47.1), (87.3, 47.6), (87.8, 47.9),
    (88.2, 46.5), (88.5, 46.9), (89.0, 46.7), (89.5, 46.9), (89.7, 47.1), (89.9, 45.4), (90.6, 44.5), (91.0, 44.5),
    (91.8, 44.4), (92.4, 43.2), (92.7, 43.2), (93.2, 45.1), (93.3, 44.4), (93.5, 44.4), (93.7, 45.4), (94.0, 44.7),
    (94.6, 44.7), (95.1, 44.7), (95.6, 46.6), (93.0, 48.1), (93.2, 47.1), (93.7, 47.7), (94.2, 47.7), (92.5, 48.1),
    (92.6, 49.4),
    (85.2, 43.4), (86.0, 41.6), (87.1, 41.4), (87.5, 40.7), (87.8, 41.4), (84.2, 39.7), (83.4, 41.7), (85.8, 34.4),
    (86.9, 32.1), (90.6, 38.1), (90.8, 36.4), (91.1, 35.4), (91.6, 34.1), (92.0, 38.1), (92.2, 34.1), (92.5, 32.1),
    (92.7, 35.1), (93.3, 35.7), (93.5, 35.5), (93.7, 33.7), (93.9, 33.1), (94.1, 34.1), (94.3, 35.4), (94.5, 35.1),
    (94.7, 36.1), (95.0, 34.4), (95.2, 35.1), (95.4, 36.7), (95.6, 36.4), (95.9, 36.1), (96.0, 35.1), (96.3, 34.7),
    (96.4, 39.1), (96.5, 37.7), (94.6, 38.7), (95.0, 39.4), (94.2, 37.1), (93.8, 37.7), (93.5, 38.1), (93.2, 39.7),
    (92.9, 40.1), (92.6, 41.1), (92.2, 43.1), (94.5, 42.4), (94.3, 43.4), (94.9, 40.1), (95.3, 40.1), (93.4, 43.2),
    (93.2, 46.1), (93.0, 42.7),
    (94.7, 32.1), (95.0, 32.4), (95.3, 31.7), (95.6, 32.7), (95.9, 32.1), (96.2, 31.7), (96.3, 31.1), (96.4, 32.7),
    (96.6, 31.7), (95.7, 30.7), (96.0, 30.7), (95.3, 33.1), (95.9, 33.7), (94.6, 33.4), (95.0, 33.7),
    (95.0, 28.7), (95.3, 28.7), (95.6, 28.7), (95.9, 28.7), (96.4, 28.7), (96.3, 28.1), (96.7, 27.7), (96.2, 25.7),
    (94.3, 26.7), (94.5, 26.7), (93.9, 27.7), (93.2, 24.4), (92.7, 22.5), (93.0, 20.5), (93.6, 22.4), (94.0, 20.9),
    (94.3, 22.5), (94.6, 23.7), (94.9, 23.7), (95.2, 23.7), (95.5, 23.7), (95.9, 23.7), (96.1, 23.7),
    (95.9, 22.1), (95.9, 18.7), (95.3, 17.1), (96.7, 16.7),
    (85.2, 24.9), (85.6, 24.9), (90.3, 25.2), (91.0, 28.2), (91.7, 28.5), (87.1, 21.9), (85.9, 18.5), (86.2, 18.5),
    (87.6, 19.1), (87.9, 16.4), (88.1, 16.4), (86.6, 15.7), (87.3, 15.1), (86.8, 13.4), (87.1, 13.1), (87.3, 12.7),
    (87.8, 12.5), (85.6, 12.9), (91.3, 14.9), (91.4, 11.9), (91.5, 11.1), (91.8, 11.1), (92.0, 11.1), (90.2, 10.9),
    (87.5, 9.1), (87.2, 8.5), (86.7, 5.2), (86.9, 4.1), (87.6, 4.6), (88.3, 5.7), (86.7, 2.4), (86.8, 1.9),
    (85.9, 2.3), (85.9, 0.9), (87.7, 1.7), (88.4, 2.1), (92.3, 5.3), (83.4, 6.9), (83.6, 6.9), (83.9, 6.9),
]

# Smoothed trend and half-width of its grey band
smooth_x = [0.8, 1.7, 2.8, 4.3, 5.7, 7.1, 8.5, 10.0, 11.4, 12.8, 14.2, 15.6, 17.0, 18.2, 19.7, 21.1, 22.5, 23.3,
            24.2, 25.3, 26.5, 27.5, 28.5, 29.3, 30.2, 31.0, 32.2, 33.3, 34.3, 35.7, 37.1, 38.3, 39.1, 40.0, 41.1,
            42.3, 43.2, 44.2, 45.0, 45.8, 46.8, 47.5, 48.5, 49.2, 49.8, 50.4, 50.9, 51.6, 52.3, 52.9, 53.5, 54.1,
            54.6, 55.4, 56.1, 56.9, 57.8, 58.6, 59.8, 60.9, 62.2, 63.5, 64.9, 66.5, 68.1, 69.6, 71.0, 72.4, 73.8,
            75.3, 76.7, 78.1, 79.5, 80.9, 82.4, 83.6, 84.8, 86.2, 87.6, 89.0, 90.5, 91.9, 93.3, 94.7, 96.2, 96.8]
smooth_y = [60.2, 58.4, 56.1, 53.1, 50.4, 47.7, 45.4, 43.7, 42.7, 42.4, 42.5, 43.4, 44.4, 45.4, 46.7, 47.9, 48.4, 48.4,
            47.6, 45.7, 43.1, 39.7, 34.4, 30.4, 26.4, 24.1, 22.4, 22.1, 23.1, 26.4, 29.4, 30.4, 29.7, 28.4, 25.7,
            22.0, 18.6, 13.8, 10.8, 8.9, 7.6, 7.1, 6.1, 6.4, 5.2, 6.2, 9.9, 13.1, 12.3, 9.7, 7.9, 8.6,
            13.7, 21.7, 29.1, 36.4, 41.7, 45.4, 47.6, 48.3, 48.4, 47.6, 46.3, 45.4, 45.3, 45.7, 46.7, 48.4, 50.1,
            51.4, 52.3, 52.7, 52.9, 52.6, 52.1, 51.5, 50.5, 49.2, 47.9, 46.4, 44.1, 41.4, 38.7, 36.1, 34.1, 33.4]
smooth_se = [4.4, 3.8, 3.2, 2.6, 2.3, 2.1, 2.0, 2.0, 2.0, 2.0, 2.0, 1.9, 1.8, 1.7, 1.7, 1.7, 1.7, 1.7,
             1.7, 1.7, 1.7, 1.7, 1.7, 1.7, 1.7, 1.6, 1.6, 1.6, 1.6, 1.6, 1.6, 1.6, 1.6, 1.6, 1.6,
             1.6, 1.6, 1.6, 1.6, 1.6, 1.5, 1.5, 1.5, 1.5, 1.6, 1.7, 1.9, 2.1, 2.0, 1.8, 1.7, 1.7,
             1.8, 1.9, 1.9, 1.9, 1.9, 1.9, 1.9, 2.0, 2.0, 2.1, 2.2, 2.4, 2.5, 2.5, 2.5, 2.4, 2.3,
             2.3, 2.3, 2.4, 2.5, 2.3, 2.0, 1.8, 1.6, 1.5, 1.5, 1.5, 1.5, 1.6, 1.8, 2.3, 3.1, 3.6]

# Reference speeds and trip phases
fast_speed = 50
slow_speed = 9
distal_start, distal_end, distal_mid = 44.1, 53.9, 49.06
y_ticks = [0, 20, 40, 60, 80]

# Build table of all fixes
all_pts = pts_departure + pts_outward + pts_approach + pts_distal + pts_leaving + pts_inward + pts_return
df = pd.DataFrame(all_pts, columns=["progress", "speed"])
lower = [m - s for m, s in zip(smooth_y, smooth_se)]
upper = [m + s for m, s in zip(smooth_y, smooth_se)]

sns.set_style("ticks")
plt.rcParams["font.family"] = ["Liberation Sans", "DejaVu Sans"]
plt.rcParams["mathtext.fontset"] = "custom"
plt.rcParams["mathtext.rm"] = "Liberation Sans"
plt.rcParams["mathtext.it"] = "Liberation Sans"
plt.rcParams["text.color"] = "black"
plt.rcParams["axes.labelcolor"] = "black"
plt.rcParams["ytick.color"] = "black"

fig = plt.figure(figsize=(12.98, 5.36), dpi=100)
ax = fig.add_axes([0.0639, 0.097, 0.9268, 0.8825])

ax.axvspan(distal_start, distal_end, color="#c6c6c6", lw=0, zorder=0)
sns.scatterplot(data=df, x="progress", y="speed", color="black", s=5, linewidth=0, ax=ax, zorder=2)
ax.fill_between(smooth_x, lower, upper, color="#cfcfcf", alpha=0.8, lw=0, zorder=3)
sns.lineplot(x=smooth_x, y=smooth_y, color="#a3201f", lw=1.6, ax=ax, zorder=4)

ax.axhline(fast_speed, color="black", lw=1.8, dashes=(4, 2), zorder=5)
ax.axhline(slow_speed, color="#d40000", lw=2.2, dashes=(3.6, 1.7), zorder=5)
ax.axvline(distal_mid, color="#8c8c8c", lw=2.2, dashes=(4.3, 2.3), zorder=5)

ax.set_xlim(-2.56, 100.09)
ax.set_ylim(-2.4, 92.2)
ax.set_xticks([])
ax.set_yticks(y_ticks)
ax.set_xlabel("")
ax.set_ylabel("Speed (km h$^{-1}$)", fontsize=19, labelpad=8)
ax.tick_params(axis="y", direction="out", length=4, width=1.2, right=True, labelright=False,
               labelsize=14.5, color="black", labelcolor="black")
for side in ["left", "right", "top", "bottom"]:
    ax.spines[side].set_visible(True)
    ax.spines[side].set_color("#222222")
    ax.spines[side].set_linewidth(1.2)

# Trip phase annotations under the axis
txt = dict(fontsize=15, family="DejaVu Sans", color="black", ha="center", va="center",
           annotation_clip=False, xycoords=("data", "axes fraction"))
ax.annotate("Departure\nfrom colony", xy=(1.28, -0.054), **txt)
ax.annotate("Distal area", xy=(distal_mid, -0.0275), **txt)
ax.annotate("Return\nto colony", xy=(96.2, -0.054), **txt)
ax.annotate("Outward movement", xy=(24.6, -0.07), **txt)
ax.annotate("Inward movement", xy=(73.4, -0.07), **txt)
arrow = dict(arrowstyle="-|>", color="black", lw=1.6, mutation_scale=14, shrinkA=0, shrinkB=0)
ax.annotate("", xy=(43.3, -0.0254), xytext=(6.6, -0.0254), xycoords=("data", "axes fraction"),
            textcoords=("data", "axes fraction"), arrowprops=arrow, annotation_clip=False)
ax.annotate("", xy=(91.7, -0.0254), xytext=(54.9, -0.0254), xycoords=("data", "axes fraction"),
            textcoords=("data", "axes fraction"), arrowprops=arrow, annotation_clip=False)

fig.savefig("out.png", dpi=100)
